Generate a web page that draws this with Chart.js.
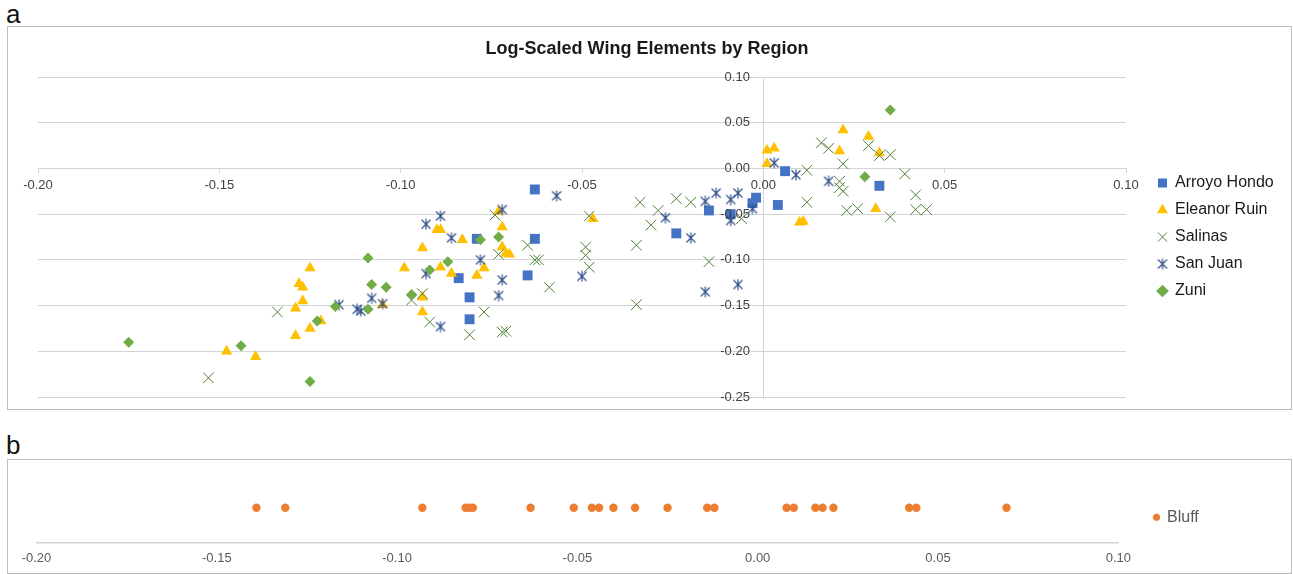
<!DOCTYPE html>
<html><head><meta charset="utf-8">
<script src="https://cdn.jsdelivr.net/npm/chart.js@4"></script>
<style>
html,body{margin:0;padding:0;background:#fff;}
body{width:1293px;height:574px;position:relative;overflow:hidden;font-family:'Liberation Sans',Arial,sans-serif;}
.panel{position:absolute;left:7px;width:1283px;border:1px solid #bdbdbd;}
#boxA{top:26px;height:382px;}
#boxB{top:459px;height:113px;}
canvas{display:block;}
.lab{position:absolute;left:6px;font-size:26px;line-height:26px;color:#111;}
</style></head><body>
<div class="lab" style="top:1px">a</div>
<div class="lab" style="top:432px">b</div>
<div class="panel" id="boxA"><canvas id="cA" width="1283" height="382" style="width:1283px;height:382px"></canvas></div>
<div class="panel" id="boxB"><canvas id="cB" width="1283" height="113" style="width:1283px;height:113px"></canvas></div>
<script>
const chartTitle = 'Log-Scaled Wing Elements by Region';
const xTickLabels = ['-0.20','-0.15','-0.10','-0.05','0.00','0.05','0.10'];
const yTickLabels = ['-0.25','-0.20','-0.15','-0.10','-0.05','0.00','0.05','0.10'];

const arroyoX = [-0.063,-0.079,-0.063,-0.084,-0.081,-0.081,-0.065,-0.024,-0.015,-0.009,-0.002,-0.003,0.004,0.006,0.032];
const arroyoY = [-0.023,-0.077,-0.077,-0.120,-0.141,-0.165,-0.117,-0.071,-0.046,-0.050,-0.032,-0.038,-0.040,-0.003,-0.019];

const eleanorX = [-0.148,-0.140,-0.129,-0.125,-0.122,-0.129,-0.127,-0.128,-0.127,-0.125,-0.099,-0.094,-0.094,-0.094,-0.090,-0.089,-0.083,-0.089,-0.086,-0.079,-0.077,-0.073,-0.072,-0.072,-0.071,-0.070,-0.105,-0.047,0.010,0.011,0.001,0.003,0.001,0.022,0.021,0.029,0.032,0.031];
const eleanorY = [-0.200,-0.206,-0.183,-0.175,-0.167,-0.153,-0.145,-0.126,-0.130,-0.109,-0.109,-0.087,-0.141,-0.157,-0.067,-0.067,-0.078,-0.108,-0.115,-0.117,-0.109,-0.047,-0.064,-0.086,-0.093,-0.094,-0.149,-0.055,-0.059,-0.058,0.020,0.022,0.005,0.042,0.019,0.035,0.017,-0.044];

const salinasX = [-0.134,-0.153,-0.097,-0.094,-0.092,-0.081,-0.077,-0.074,-0.073,-0.065,-0.063,-0.062,-0.059,-0.072,-0.071,-0.048,-0.049,-0.049,-0.048,-0.035,-0.035,-0.034,-0.031,-0.029,-0.024,-0.020,-0.015,-0.006,0.012,0.012,0.016,0.018,0.022,0.021,0.021,0.022,0.023,0.026,0.029,0.032,0.035,0.035,0.039,0.042,0.042,0.045];
const salinasY = [-0.157,-0.229,-0.144,-0.137,-0.168,-0.182,-0.157,-0.051,-0.094,-0.084,-0.100,-0.100,-0.130,-0.179,-0.178,-0.052,-0.086,-0.095,-0.108,-0.084,-0.149,-0.037,-0.062,-0.046,-0.033,-0.037,-0.102,-0.055,-0.037,-0.002,0.028,0.022,0.005,-0.014,-0.021,-0.025,-0.046,-0.044,0.025,0.014,0.015,-0.053,-0.006,-0.029,-0.045,-0.045];

const sanJuanX = [-0.117,-0.112,-0.111,-0.108,-0.105,-0.093,-0.089,-0.086,-0.093,-0.089,-0.078,-0.072,-0.073,-0.072,-0.057,-0.050,-0.027,-0.020,-0.016,-0.007,-0.016,-0.013,-0.009,-0.007,-0.009,-0.003,0.003,0.009,0.018];
const sanJuanY = [-0.149,-0.154,-0.156,-0.142,-0.148,-0.061,-0.052,-0.076,-0.115,-0.173,-0.100,-0.122,-0.139,-0.045,-0.030,-0.118,-0.054,-0.076,-0.135,-0.127,-0.036,-0.027,-0.034,-0.027,-0.057,-0.044,0.006,-0.007,-0.014];

const zuniX = [-0.175,-0.144,-0.125,-0.123,-0.118,-0.109,-0.108,-0.104,-0.109,-0.097,-0.092,-0.087,-0.078,-0.073,0.035,0.028];
const zuniY = [-0.190,-0.194,-0.233,-0.167,-0.151,-0.098,-0.127,-0.130,-0.154,-0.138,-0.111,-0.102,-0.078,-0.075,0.064,-0.009];

const bluffX = [-0.139,-0.131,-0.093,-0.081,-0.080,-0.079,-0.063,-0.051,-0.046,-0.044,-0.040,-0.034,-0.025,-0.014,-0.012,0.008,0.010,0.016,0.018,0.021,0.042,0.044,0.069];
const bluffY = [0.69,0.69,0.69,0.69,0.69,0.69,0.69,0.69,0.69,0.69,0.69,0.69,0.69,0.69,0.69,0.69,0.69,0.69,0.69,0.69,0.69,0.69,0.69];

const FONT = "'Liberation Sans', Arial, sans-serif";
const gridColor = '#d4d4d4';
Chart.defaults.font.family = FONT;

const toPts = (xs, ys) => xs.map((x, i) => ({x: x, y: ys[i]}));

function makeAsterisk(color) {
  const c = document.createElement('canvas');
  c.width = 12; c.height = 12;
  const g = c.getContext('2d');
  g.strokeStyle = color; g.lineWidth = 1.15;
  g.beginPath();
  g.moveTo(1.5, 1.5); g.lineTo(10.5, 10.5);
  g.moveTo(10.5, 1.5); g.lineTo(1.5, 10.5);
  g.moveTo(6, 0.5); g.lineTo(6, 11.5);
  g.stroke();
  return c;
}
const asterisk = makeAsterisk('#2f4d8a');

const legendShift = {
  id: 'legendShift',
  afterLayout(chart, args, opts) {
    const lg = chart.legend;
    if (!lg || !opts || !opts.dx) return;
    lg.left += opts.dx; lg.right += opts.dx;
  }
};

const tickSetter = labels => scale => { scale.ticks = labels.map(t => ({value: parseFloat(t)})); };

new Chart(document.getElementById('cA'), {
  type: 'scatter',
  data: {
    datasets: [
      {label: 'Arroyo Hondo', data: toPts(arroyoX, arroyoY), pointStyle: 'rect', pointRadius: 7, pointHoverRadius: 7,
       backgroundColor: '#4472C4', borderColor: '#4472C4', borderWidth: 0, order: 5},
      {label: 'Eleanor Ruin', data: toPts(eleanorX, eleanorY), pointStyle: 'triangle', pointRadius: 6.5, pointHoverRadius: 6.5,
       backgroundColor: '#FFC000', borderColor: '#FFC000', borderWidth: 0, order: 4},
      {label: 'Salinas', data: toPts(salinasX, salinasY), pointStyle: 'crossRot', pointRadius: 7.5, pointHoverRadius: 7.5,
       backgroundColor: '#4f7f38', borderColor: '#4f7f38', borderWidth: 1, order: 3},
      {label: 'San Juan', data: toPts(sanJuanX, sanJuanY), pointStyle: asterisk, pointRadius: 6, pointHoverRadius: 6,
       backgroundColor: '#2f4d8a', borderColor: '#2f4d8a', borderWidth: 0, order: 2},
      {label: 'Zuni', data: toPts(zuniX, zuniY), pointStyle: 'rectRot', pointRadius: 5.5, pointHoverRadius: 5.5,
       backgroundColor: '#70AD47', borderColor: '#70AD47', borderWidth: 0, order: 1}
    ]
  },
  plugins: [legendShift],
  options: {
    responsive: false, animation: false, events: [], devicePixelRatio: 1,
    layout: {padding: {left: 30, right: 35, top: 0, bottom: 12}},
    scales: {
      x: {
        type: 'linear', position: {y: 0}, min: -0.2, max: 0.1,
        afterBuildTicks: tickSetter(xTickLabels),
        grid: {drawOnChartArea: true, color: c => (c.tick && c.tick.value === 0) ? gridColor : 'rgba(0,0,0,0)',
               lineWidth: 1, drawTicks: true, tickLength: 4, tickColor: gridColor},
        border: {display: true, color: gridColor, width: 1},
        ticks: {callback: (v, i) => xTickLabels[i], padding: 5, color: '#404040', font: {size: 13}, maxRotation: 0, autoSkip: false, z: 1}
      },
      y: {
        type: 'linear', position: {x: -0.0037}, min: -0.25, max: 0.1,
        afterBuildTicks: tickSetter(yTickLabels),
        grid: {color: gridColor, lineWidth: 1, drawTicks: false},
        border: {display: false},
        ticks: {callback: (v, i) => yTickLabels[i], color: '#404040', font: {size: 13}, autoSkip: false, z: 1}
      }
    },
    plugins: {
      title: {display: true, text: chartTitle, color: '#1a1a1a', font: {size: 18, weight: 'bold'}, padding: {top: 11.2, bottom: 17.2}},
      legend: {
        position: 'right', align: 'center', fullSize: false, maxWidth: 130,
        labels: {usePointStyle: true, boxWidth: 9, boxHeight: 9, padding: 11, color: '#1a1a1a', font: {size: 16},
                 sort: (a, b) => a.datasetIndex - b.datasetIndex}
      },
      legendShift: {dx: 21},
      tooltip: {enabled: false}
    }
  }
});

new Chart(document.getElementById('cB'), {
  type: 'scatter',
  data: {
    datasets: [
      {label: 'Bluff', data: toPts(bluffX, bluffY), pointStyle: 'circle', pointRadius: 4.2, pointHoverRadius: 4.2,
       backgroundColor: '#ED7D31', borderColor: '#ED7D31', borderWidth: 0}
    ]
  },
  plugins: [legendShift],
  options: {
    responsive: false, animation: false, events: [], devicePixelRatio: 1,
    layout: {padding: {left: 28.5, right: 112.7, top: 32, bottom: -1.3}},
    scales: {
      x: {
        type: 'linear', position: 'bottom', min: -0.2, max: 0.1,
        afterBuildTicks: tickSetter(xTickLabels),
        grid: {display: false, drawTicks: false},
        border: {display: true, color: gridColor, width: 1.5},
        ticks: {callback: (v, i) => xTickLabels[i], padding: 8, color: '#595959', font: {size: 13}, maxRotation: 0, autoSkip: false}
      },
      y: {display: false, min: 0, max: 1}
    },
    plugins: {
      legend: {
        position: 'right', align: 'center', fullSize: false, maxWidth: 60,
        labels: {usePointStyle: true, boxWidth: 5, boxHeight: 5, padding: 11, color: '#595959', font: {size: 16}}
      },
      legendShift: {dx: 24.7},
      tooltip: {enabled: false}
    }
  }
});
</script>
</body></html>
